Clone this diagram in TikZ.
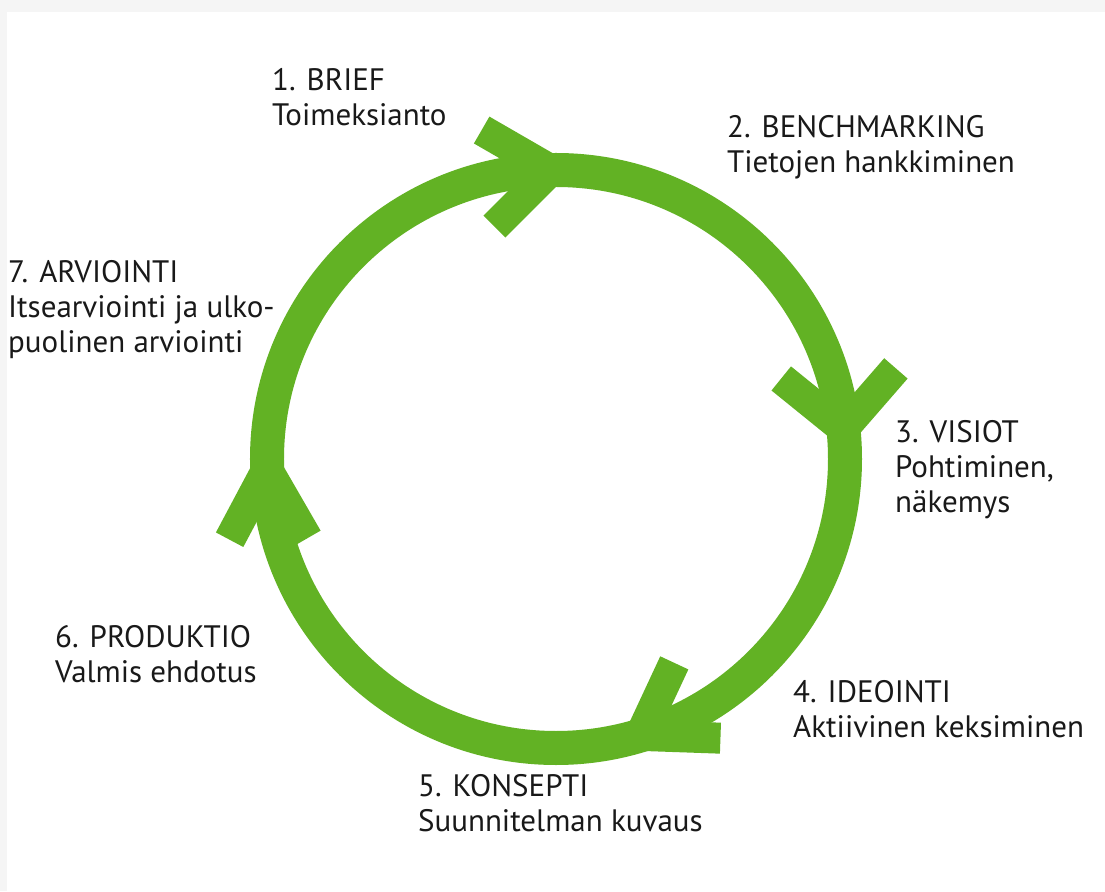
\documentclass[tikz,border=0pt]{standalone}
\usepackage{fontspec}
\setmainfont{PT Sans}
\usetikzlibrary{calc}
\definecolor{ringgreen}{RGB}{98,178,36}

\begin{document}
\begin{tikzpicture}[
  x=1pt, y=1pt,
  font=\fontsize{31}{35}\selectfont,
  ring/.style={draw=ringgreen, line width=34pt},
  barb/.style={draw=ringgreen, line width=31pt, line join=miter},
  lbl/.style={anchor=north west, inner sep=0pt, align=left, text=black!90}
]
% frame
\fill[gray!8] (-556,-432) rectangle (549,459);
\fill[white] (-549,-432) rectangle (549,447);
\useasboundingbox (-556,-432) rectangle (549,459);

% cycle
\coordinate (c) at (0,0);
\draw[ring] (c) circle (289);
\foreach \a/\p/\q in {91/150/225, 6/141/49, -73/65/-2, 182/242/300}{
  \coordinate (tip) at (\a:289);
  \draw[barb] ($(tip)+(\p:80)$) -- (tip) -- ($(tip)+(\q:80)$);
}

% steps
\node[lbl] (brief) at (-284,391) {1. BRIEF\\Toimeksianto};
\node[lbl] (bench) at (171,344) {2. BENCHMARKING\\Tietojen hankkiminen};
\node[lbl] (visiot) at (339,39) {3. VISIOT\\Pohtiminen,\\näkemys};
\node[lbl] (ideo) at (237,-221) {4. IDEOINTI\\Aktiivinen keksiminen};
\node[lbl] (konsepti) at (-138,-315) {5. KONSEPTI\\Suunnitelman kuvaus};
\node[lbl] (prod) at (-501,-166) {6. PRODUKTIO\\Valmis ehdotus};
\node[lbl] (arv) at (-548,199) {7. ARVIOINTI\\Itsearviointi ja ulko-\\puolinen arviointi};
\end{tikzpicture}
\end{document}
